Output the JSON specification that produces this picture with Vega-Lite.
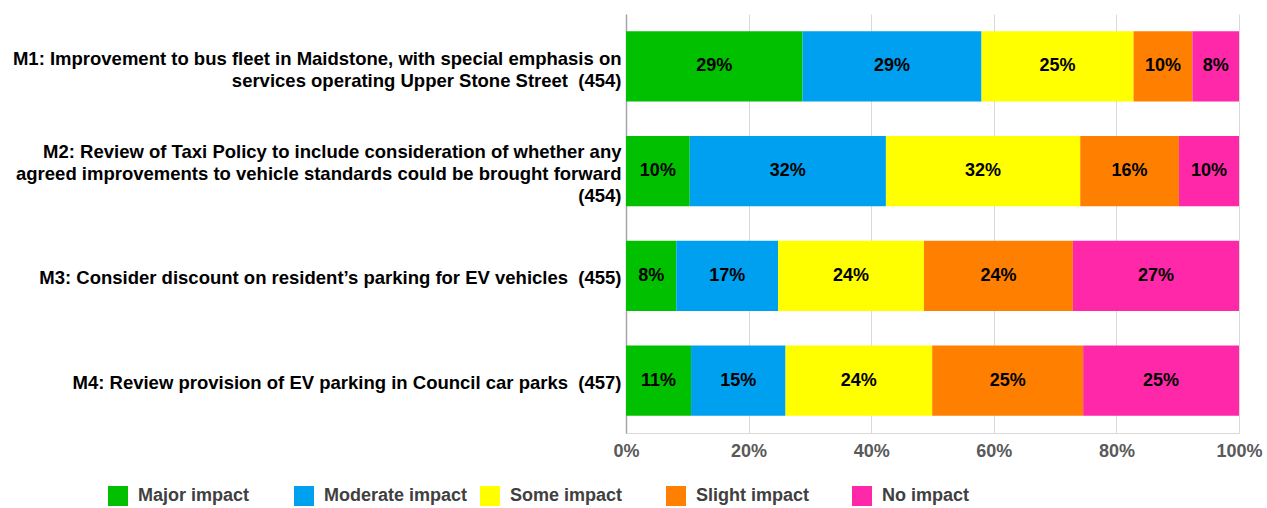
{
  "$schema": "https://vega.github.io/schema/vega-lite/v6.json",
  "autosize": {"type": "none"},
  "width": 613,
  "height": 419,
  "padding": {"left": 626, "top": 14, "right": 28, "bottom": 75},
  "background": "white",
  "config": {
    "view": {"stroke": null},
    "font": "Liberation Sans, Arial, sans-serif"
  },
  "data": {
    "values": [
      {"q": "M1: Improvement to bus fleet in Maidstone, with special emphasis on|services operating Upper Stone Street \u00a0(454)", "impact": "Major impact", "rank": 1, "value": 0.288},
      {"q": "M1: Improvement to bus fleet in Maidstone, with special emphasis on|services operating Upper Stone Street \u00a0(454)", "impact": "Moderate impact", "rank": 2, "value": 0.292},
      {"q": "M1: Improvement to bus fleet in Maidstone, with special emphasis on|services operating Upper Stone Street \u00a0(454)", "impact": "Some impact", "rank": 3, "value": 0.248},
      {"q": "M1: Improvement to bus fleet in Maidstone, with special emphasis on|services operating Upper Stone Street \u00a0(454)", "impact": "Slight impact", "rank": 4, "value": 0.096},
      {"q": "M1: Improvement to bus fleet in Maidstone, with special emphasis on|services operating Upper Stone Street \u00a0(454)", "impact": "No impact", "rank": 5, "value": 0.076},
      {"q": "M2: Review of Taxi Policy to include consideration of whether any|agreed improvements to vehicle standards could be brought forward|(454)", "impact": "Major impact", "rank": 1, "value": 0.104},
      {"q": "M2: Review of Taxi Policy to include consideration of whether any|agreed improvements to vehicle standards could be brought forward|(454)", "impact": "Moderate impact", "rank": 2, "value": 0.320},
      {"q": "M2: Review of Taxi Policy to include consideration of whether any|agreed improvements to vehicle standards could be brought forward|(454)", "impact": "Some impact", "rank": 3, "value": 0.317},
      {"q": "M2: Review of Taxi Policy to include consideration of whether any|agreed improvements to vehicle standards could be brought forward|(454)", "impact": "Slight impact", "rank": 4, "value": 0.161},
      {"q": "M2: Review of Taxi Policy to include consideration of whether any|agreed improvements to vehicle standards could be brought forward|(454)", "impact": "No impact", "rank": 5, "value": 0.098},
      {"q": "M3: Consider discount on resident’s parking for EV vehicles \u00a0(455)", "impact": "Major impact", "rank": 1, "value": 0.082},
      {"q": "M3: Consider discount on resident’s parking for EV vehicles \u00a0(455)", "impact": "Moderate impact", "rank": 2, "value": 0.166},
      {"q": "M3: Consider discount on resident’s parking for EV vehicles \u00a0(455)", "impact": "Some impact", "rank": 3, "value": 0.238},
      {"q": "M3: Consider discount on resident’s parking for EV vehicles \u00a0(455)", "impact": "Slight impact", "rank": 4, "value": 0.243},
      {"q": "M3: Consider discount on resident’s parking for EV vehicles \u00a0(455)", "impact": "No impact", "rank": 5, "value": 0.271},
      {"q": "M4: Review provision of EV parking in Council car parks \u00a0(457)", "impact": "Major impact", "rank": 1, "value": 0.106},
      {"q": "M4: Review provision of EV parking in Council car parks \u00a0(457)", "impact": "Moderate impact", "rank": 2, "value": 0.154},
      {"q": "M4: Review provision of EV parking in Council car parks \u00a0(457)", "impact": "Some impact", "rank": 3, "value": 0.239},
      {"q": "M4: Review provision of EV parking in Council car parks \u00a0(457)", "impact": "Slight impact", "rank": 4, "value": 0.246},
      {"q": "M4: Review provision of EV parking in Council car parks \u00a0(457)", "impact": "No impact", "rank": 5, "value": 0.254}
    ]
  },
  "transform": [
    {"stack": "value", "groupby": ["q"], "sort": [{"field": "rank", "order": "ascending"}], "as": ["v0", "v1"], "offset": "normalize"},
    {"calculate": "(datum.v0 + datum.v1) / 2", "as": "mid"}
  ],
  "encoding": {
    "y": {
      "field": "q",
      "type": "nominal",
      "sort": null,
      "title": null,
      "scale": {"paddingInner": 0.33, "paddingOuter": 0.165},
      "axis": {
        "labelExpr": "split(datum.label, '|')",
        "labelFont": "Liberation Sans, Arial, sans-serif",
        "labelFontSize": 18.5,
        "labelFontWeight": "bold",
        "labelColor": "#000000",
        "labelLineHeight": 22,
        "labelLimit": 700,
        "labelPadding": 5,
        "labelOffset": {
          "condition": [
            {"test": "indexof(datum.value, 'M1') == 0", "value": -7},
            {"test": "indexof(datum.value, 'M2') == 0", "value": -19}
          ],
          "value": 2
        },
        "ticks": false,
        "domainColor": "#a6a6a6",
        "domainWidth": 1.5,
        "grid": false
      }
    }
  },
  "layer": [
    {
      "mark": {"type": "bar"},
      "encoding": {
        "x": {
          "field": "v0",
          "type": "quantitative",
          "title": null,
          "scale": {"domain": [0, 1], "nice": false},
          "axis": {
            "format": ".0%",
            "values": [0, 0.2, 0.4, 0.6, 0.8, 1],
            "grid": true,
            "gridColor": "#d9d9d9",
            "gridWidth": 1,
            "domainColor": "#d9d9d9",
            "ticks": false,
            "labelFont": "Liberation Sans, Arial, sans-serif",
            "labelFontSize": 18,
            "labelFontWeight": "bold",
            "labelColor": "#595959",
            "labelPadding": 9,
            "labelFlush": false
          }
        },
        "x2": {"field": "v1"},
        "color": {
          "field": "impact",
          "type": "nominal",
          "title": null,
          "scale": {
            "domain": ["Major impact", "Moderate impact", "Some impact", "Slight impact", "No impact"],
            "range": ["#00c000", "#00a0f0", "#ffff00", "#ff8000", "#ff28a8"]
          },
          "legend": {
            "orient": "none",
            "legendX": -518,
            "legendY": 472,
            "direction": "horizontal",
            "columns": 5,
            "gridAlign": "all",
            "symbolType": "square",
            "symbolSize": 400,
            "symbolStrokeWidth": 0,
            "symbolOpacity": 1,
            "labelFont": "Liberation Sans, Arial, sans-serif",
            "labelFontSize": 18,
            "labelFontWeight": "bold",
            "labelColor": "#404040",
            "labelOffset": 10,
            "labelLimit": 300,
            "columnPadding": 12
          }
        }
      }
    },
    {
      "mark": {"type": "text", "fontSize": 18, "fontWeight": "bold", "color": "#000000", "font": "Liberation Sans, Arial, sans-serif"},
      "encoding": {
        "x": {"field": "mid", "type": "quantitative"},
        "text": {"field": "value", "type": "quantitative", "format": ".0%"}
      }
    }
  ]
}
